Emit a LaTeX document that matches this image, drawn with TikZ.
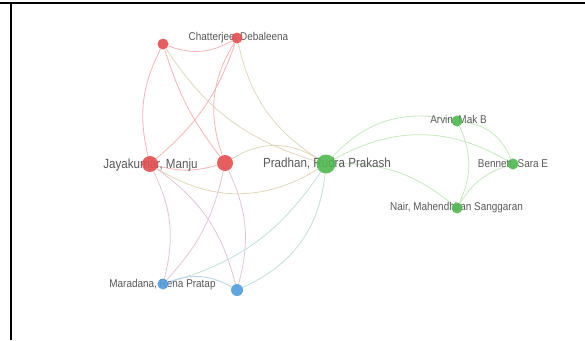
\documentclass[tikz,border=0pt]{standalone}
\usepackage{fontspec}
\newfontfamily\labfont[FakeStretch=0.88]{Liberation Sans}
\definecolor{nred}{RGB}{226,78,80}
\definecolor{ngreen}{RGB}{80,184,80}
\definecolor{nblue}{RGB}{80,156,220}
\definecolor{ered}{RGB}{247,180,180}
\definecolor{egreen}{RGB}{198,233,192}
\definecolor{eblue}{RGB}{182,210,238}
\definecolor{erg}{RGB}{224,214,184}
\definecolor{erb}{RGB}{226,196,218}
\definecolor{egb}{RGB}{192,224,214}
\definecolor{txt}{RGB}{88,88,88}
\begin{document}
\begin{tikzpicture}[x=1pt,y=-1pt,
  dot/.style={circle,inner sep=0pt,draw=none,fill opacity=0.9},
  rdot/.style={dot,fill=nred},
  gdot/.style={dot,fill=ngreen},
  bdot/.style={dot,fill=nblue},
  lab/.style={inner sep=0pt,anchor=base,text=txt,font=\labfont\fontsize{11.3}{12}\selectfont},
  biglab/.style={lab,font=\labfont\fontsize{13.2}{14}\selectfont},
  edge/.style={line width=0.8pt},
  er/.style={edge,draw=ered},
  eg/.style={edge,draw=egreen},
  eb/.style={edge,draw=eblue},
  erg/.style={edge,draw=erg},
  erb/.style={edge,draw=erb},
  egb/.style={edge,draw=egb},
  frame/.style={line width=2pt,draw=black}]
\useasboundingbox (0,0) rectangle (585,340);
% frame
\coordinate (fTL) at (0,3);
\coordinate (fTR) at (585,3);
\coordinate (fLT) at (11,2);
\coordinate (fLB) at (11,340);
\draw[frame] (fTL) -- (fTR);
\draw[frame] (fLT) -- (fLB);
% node anchors for edges
\node[rdot,minimum size=11pt,opacity=0] (tl) at (163,44) {};
\node[rdot,minimum size=11pt,opacity=0] (ch) at (237,38) {};
\node[rdot,minimum size=16pt,opacity=0] (J) at (150,164) {};
\node[rdot,minimum size=16pt,opacity=0] (M) at (225,163) {};
\node[gdot,minimum size=19pt,opacity=0] (P) at (326,164) {};
\node[gdot,minimum size=11pt,opacity=0] (Ar) at (457,121) {};
\node[gdot,minimum size=11pt,opacity=0] (Be) at (513,164) {};
\node[gdot,minimum size=11pt,opacity=0] (Na) at (457,208) {};
\node[bdot,minimum size=11pt,opacity=0] (Mar) at (163,284) {};
\node[bdot,minimum size=12pt,opacity=0] (B2) at (237,290) {};
% edges
\draw[er] (tl) to[bend right=25] (ch);
\draw[er] (tl) to[bend right=20] (J);
\draw[er] (tl) to[bend right=10] (M);
\draw[erg] (tl) to[bend right=20] (P);
\draw[er] (ch) to[bend left=15] (J);
\draw[er] (ch) to[bend right=25] (M);
\draw[erg] (ch) to[bend right=22] (P);
\draw[er] (J) to[bend right=15] (M);
\draw[erg] (J) to[bend right=32] (P);
\draw[erg] (M) to[bend left=32] (P);
\draw[erb] (J) to[bend left=20] (Mar);
\draw[erb] (J) to[bend left=20] (B2);
\draw[erb] (M) to[bend left=15] (Mar);
\draw[erb] (M) to[bend left=20] (B2);
\draw[egb] (P) to[bend left=20] (Mar);
\draw[egb] (P) to[bend left=30] (B2);
\draw[eb] (Mar) to[bend left=25] (B2);
\draw[eg] (P) to[bend left=30] (Ar);
\draw[eg] (P) to[bend left=30] (Be);
\draw[eg] (P) to[bend left=20] (Na);
\draw[eg] (Ar) to[bend left=30] (Be);
\draw[eg] (Ar) to[bend left=25] (Na);
\draw[eg] (Be) to[bend right=20] (Na);
% labels
\node[lab] (tCh) at (238.5,40.5) {Chatterjee, Debaleena};
\node[biglab] (tJ) at (150.5,168) {Jayakumar, Manju};
\node[biglab] (tP) at (327,167.5) {Pradhan, Rudra Prakash};
\node[lab] (tAr) at (458.5,123.5) {Arvin, Mak B};
\node[lab] (tBe) at (513,167.5) {Bennett, Sara E};
\node[lab] (tNa) at (456.5,210.5) {Nair, Mahendhiran Sanggaran};
\node[lab] (tMar) at (162.5,287.5) {Maradana, Rena Pratap};
% visible nodes
\node[rdot,minimum size=11pt] (tlv) at (tl) {};
\node[rdot,minimum size=11pt] (chv) at (ch) {};
\node[rdot,minimum size=16pt] (Jv) at (J) {};
\node[rdot,minimum size=16pt] (Mv) at (M) {};
\node[gdot,minimum size=19pt] (Pv) at (P) {};
\node[gdot,minimum size=11pt] (Arv) at (Ar) {};
\node[gdot,minimum size=11pt] (Bev) at (Be) {};
\node[gdot,minimum size=11pt] (Nav) at (Na) {};
\node[bdot,minimum size=11pt] (Marv) at (Mar) {};
\node[bdot,minimum size=12pt] (B2v) at (B2) {};
\end{tikzpicture}
\end{document}
